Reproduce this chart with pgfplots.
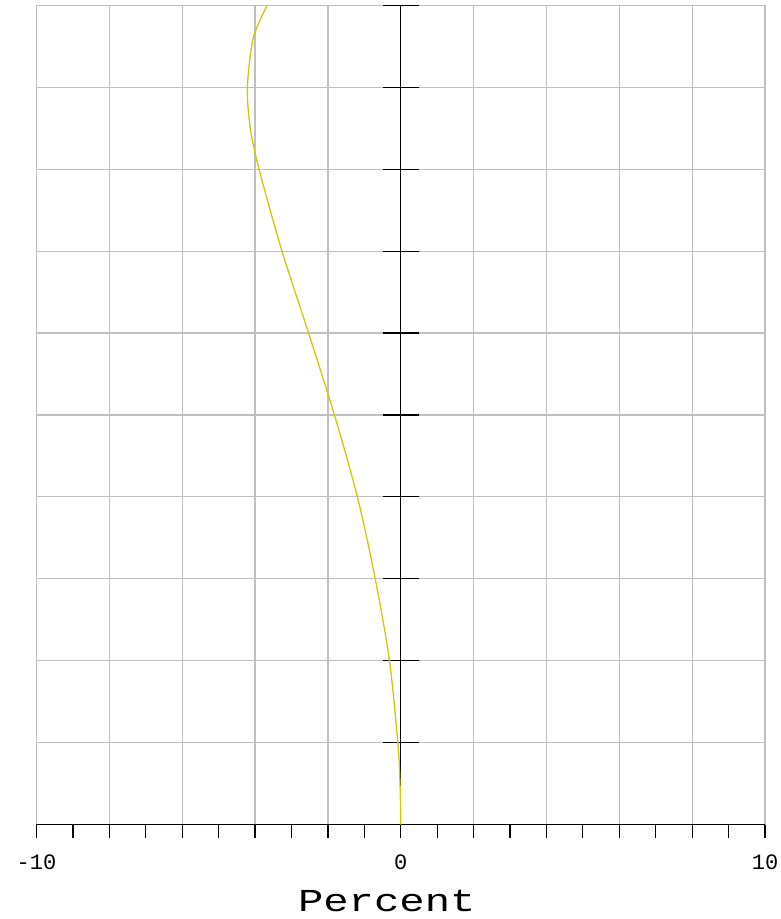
\documentclass[border=0pt]{standalone}
\usepackage{pgfplots}
\pgfplotsset{compat=1.18}
\usepackage{fontspec}
\setmainfont{Liberation Mono}
\usepackage{graphicx}
\definecolor{curve}{RGB}{204,204,0}
\definecolor{gridc}{RGB}{192,192,192}
\begin{document}
\begin{tikzpicture}
\begin{axis}[name=ax, scale only axis, width=728.5pt, height=819pt,
  xmin=-10, xmax=10, ymin=0, ymax=10,
  axis line style={draw=none},
  xtick={-10,-8,...,10}, minor xtick={-9,-7,...,9},
  xticklabels={-10,,,,,0,,,,,10},
  ytick={0,...,10}, yticklabels={},
  grid=major, major grid style={gridc, line width=1.2pt},
  tick align=outside, xtick pos=left,
  ytick style={draw=none},
  major tick length=13pt, minor tick length=13pt,
  xtick style={black, line width=1.2pt},
  minor tick style={black, line width=1.2pt},
  xticklabel style={font=\fontsize{22}{22}\selectfont, anchor=base, yshift=-31.8pt},
  xlabel={\fontsize{32}{32}\selectfont\scalebox{1.32}[1]{Percent}},
  xlabel style={at={(axis description cs:0.5,0)}, anchor=base, yshift=-87.2pt, xshift=-14pt},
]
\end{axis}
\begin{axis}[scale only axis, width=728.5pt, height=819pt,
  xmin=-10, xmax=10, ymin=0, ymax=10,
  axis x line=bottom, axis y line=middle,
  x axis line style={-, black, line width=1.2pt},
  y axis line style={-, black, line width=1.2pt},
  xtick=\empty,
  ytick={0,...,10}, yticklabels={},
  tick align=center, major tick length=36pt,
  ytick style={black, line width=1.2pt},
]
\addplot[curve, line width=1.3pt, smooth] coordinates {
(0,0) (-0.02,0.5) (-0.08,1) (-0.31,2) (-0.70,3)
(-1.19,4) (-1.82,5) (-2.53,6) (-3.26,7) (-3.89,8) (-4.13,8.5) (-4.21,9)
(-4.05,9.6) (-3.67,10)
};
\end{axis}
\pgfresetboundingbox
\path (ax.south west) ++(-36.5pt,-94.5pt) rectangle ++(781pt,919pt);
\end{tikzpicture}
\end{document}
